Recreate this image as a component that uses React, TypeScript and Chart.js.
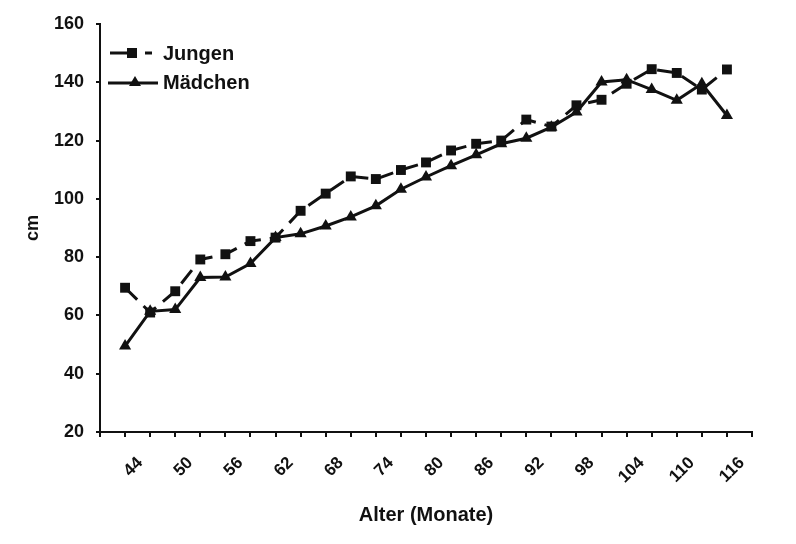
import { useEffect, useRef } from "react";
import { Chart, registerables } from "chart.js";

Chart.register(...registerables);

const AGES = [44, 47, 50, 53, 56, 59, 62, 65, 68, 71, 74, 77, 80, 83, 86, 89, 92, 95, 98, 101, 104, 107, 110, 113, 116];
const JUNGEN = [69.5, 61, 68.3, 79.2, 81, 85.5, 86.7, 95.9, 101.8, 107.7, 106.8, 109.9, 112.5, 116.6, 118.9, 120, 127.2, 124.8, 132.1, 134, 139.5, 144.5, 143.2, 137.5, 144.4];
const MAEDCHEN = [49.5, 61.4, 62, 73, 73.2, 77.8, 86.7, 88, 90.7, 93.8, 97.6, 103.3, 107.5, 111.4, 115.1, 118.9, 120.8, 124.6, 129.8, 140.1, 140.9, 137.5, 133.8, 139.5, 128.6];
const X_TICK_LABELS = [44, 50, 56, 62, 68, 74, 80, 86, 92, 98, 104, 110, 116];

const FONT = '"Liberation Sans", Arial, sans-serif';
const INK = "#111";

export default function App() {
  const canvasRef = useRef<HTMLCanvasElement>(null);
  const chartRef = useRef<Chart | null>(null);

  useEffect(() => {
    document.body.style.margin = "0";
    if (!canvasRef.current || chartRef.current) return;

    const axisGrid = {
      display: true,
      drawOnChartArea: false,
      drawTicks: true,
      color: INK,
      lineWidth: 2,
    };

    chartRef.current = new Chart(canvasRef.current, {
      type: "line",
      data: {
        datasets: [
          {
            label: "Jungen",
            data: AGES.map((a, i) => ({ x: a, y: JUNGEN[i] })),
            borderColor: INK,
            backgroundColor: INK,
            borderWidth: 3,
            borderDash: [17, 9],
            pointStyle: "rect",
            pointRadius: 7,
            pointBorderWidth: 0,
            tension: 0,
          },
          {
            label: "Mädchen",
            data: AGES.map((a, i) => ({ x: a, y: MAEDCHEN[i] })),
            borderColor: INK,
            backgroundColor: INK,
            borderWidth: 3,
            pointStyle: "triangle",
            pointRadius: 7,
            pointBorderWidth: 0,
            tension: 0,
          },
        ],
      },
      options: {
        animation: false,
        responsive: true,
        maintainAspectRatio: false,
        layout: { padding: { top: 24, right: 44, left: 0, bottom: 0 } },
        plugins: {
          legend: { display: false },
          tooltip: { enabled: false },
        },
        scales: {
          x: {
            type: "linear",
            min: 41,
            max: 119,
            afterFit: (s: any) => {
              s.height = 112;
            },
            grid: { ...axisGrid, tickLength: 5 },
            border: { display: true, color: INK, width: 2 },
            ticks: {
              stepSize: 3,
              autoSkip: false,
              maxRotation: 45,
              minRotation: 45,
              padding: 16,
              labelOffset: 15,
              color: INK,
              font: { family: FONT, size: 17, weight: "bold" },
              callback: (v: any) => (X_TICK_LABELS.includes(Number(v)) ? String(v) : ""),
            },
            title: {
              display: true,
              text: "Alter (Monate)",
              color: INK,
              font: { family: FONT, size: 20, weight: "bold" },
              padding: { top: 0, bottom: 17 },
            },
          },
          y: {
            min: 20,
            max: 160,
            afterFit: (s: any) => {
              s.width = 100;
            },
            grid: { ...axisGrid, tickLength: 4 },
            border: { display: true, color: INK, width: 2 },
            ticks: {
              stepSize: 20,
              padding: 12,
              color: INK,
              font: { family: FONT, size: 18, weight: "bold" },
            },
            title: {
              display: true,
              text: "cm",
              color: INK,
              font: { family: FONT, size: 18, weight: "bold" },
              padding: { top: 22, bottom: 0 },
            },
          },
        },
      },
    });

    return () => {
      chartRef.current?.destroy();
      chartRef.current = null;
    };
  }, []);

  const legendText = {
    fontFamily: FONT,
    fontWeight: "bold" as const,
    fontSize: 20,
    color: INK,
    lineHeight: "22px",
  };

  return (
    <div style={{ position: "relative", width: 796, height: 544, background: "#fff" }}>
      <canvas ref={canvasRef} />
      <div style={{ position: "absolute", left: 108, top: 42, pointerEvents: "none" }}>
        <div style={{ display: "flex", alignItems: "center", height: 22 }}>
          <svg width="50" height="20" viewBox="0 0 50 20">
            <line x1="2" y1="10" x2="22" y2="10" stroke={INK} strokeWidth="3" />
            <rect x="19" y="5" width="10" height="10" fill={INK} />
            <line x1="37" y1="10" x2="44" y2="10" stroke={INK} strokeWidth="3" />
          </svg>
          <span style={{ ...legendText, marginLeft: 5 }}>Jungen</span>
        </div>
        <div style={{ display: "flex", alignItems: "center", height: 22, marginTop: 7 }}>
          <svg width="50" height="20" viewBox="0 0 50 20">
            <line x1="0" y1="11" x2="50" y2="11" stroke={INK} strokeWidth="3" />
            <polygon points="27,4 33,14 21,14" fill={INK} />
          </svg>
          <span style={{ ...legendText, marginLeft: 5 }}>Mädchen</span>
        </div>
      </div>
    </div>
  );
}
